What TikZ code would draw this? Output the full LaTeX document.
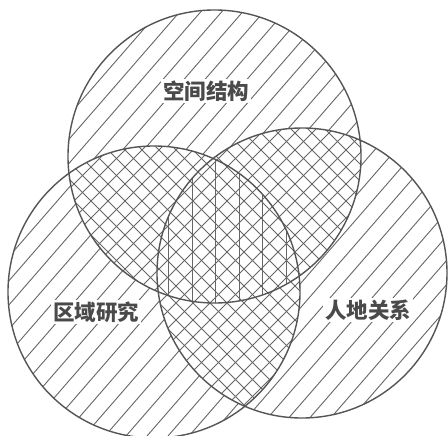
\documentclass[tikz,border=0pt]{standalone}
\usepackage{fontspec}
\newfontfamily\cjk{Noto Sans CJK SC}
\definecolor{edge}{HTML}{555555}
\definecolor{hatch}{HTML}{666666}
\definecolor{txt}{HTML}{4A4A4A}
\begin{document}
\begin{tikzpicture}[x=1pt,y=-1pt,
  ring/.style={draw=edge,line width=1.4pt},
  hline/.style={draw=hatch,line width=0.9pt},
  label/.style={fill=white,inner sep=2pt,text=txt,font=\cjk\bfseries\fontsize{21.5}{23}\selectfont}]
\fill[white] (0,0) rectangle (448,436);
\useasboundingbox (0,0) rectangle (448,436);
\def\circT{(214.5,156.5) circle[radius=146.5]}
\def\circL{(154,292) circle[radius=146]}
\def\circR{(302,273) circle[radius=145]}
% single hatching
\foreach \c in {\circT,\circL,\circR}{
  \begin{scope}
    \clip \c;
    \foreach \t in {-420,-399,...,460}
      \draw[hline] (\t,436) -- ({\t+379},0);
  \end{scope}
}
% pairwise crosshatch
\begin{scope}\clip \circT; \clip \circL;
  \fill[white] (0,0) rectangle (448,436);
  \foreach \t in {-450,-433,...,460}{\draw[hline] (\t,436) -- ({\t+436},0); \draw[hline] (\t,0) -- ({\t+436},436);}
\end{scope}
\begin{scope}\clip \circT; \clip \circR;
  \fill[white] (0,0) rectangle (448,436);
  \foreach \t in {-450,-433,...,460}{\draw[hline] (\t,436) -- ({\t+436},0); \draw[hline] (\t,0) -- ({\t+436},436);}
\end{scope}
\begin{scope}\clip \circL; \clip \circR;
  \fill[white] (0,0) rectangle (448,436);
  \foreach \t in {-450,-433,...,460}{\draw[hline] (\t,436) -- ({\t+436},0); \draw[hline] (\t,0) -- ({\t+436},436);}
\end{scope}
% triple region: vertical lines
\begin{scope}\clip \circT; \clip \circL; \clip \circR;
  \foreach \x in {168.5,192,...,300}
    \draw[hline] (\x,0) -- (\x,436);
\end{scope}
% circles
\draw[ring] \circT;
\draw[ring] \circL;
\draw[ring] \circR;
% labels
\node[label] (top) at (206,91) {空间结构};
\node[label] (left) at (96,312) {区域研究};
\node[label] (right) at (368,310) {人地关系};
\end{tikzpicture}
\end{document}
